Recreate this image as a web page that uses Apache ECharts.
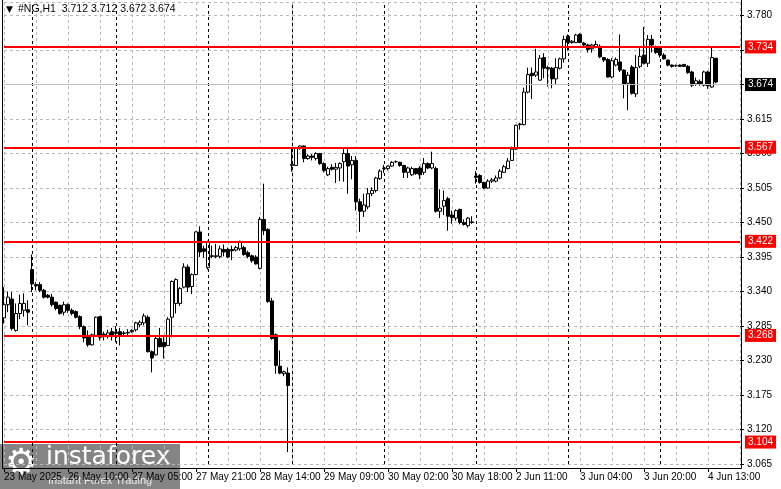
<!DOCTYPE html>
<html><head><meta charset="utf-8">
<script src="https://cdn.jsdelivr.net/npm/echarts@6/dist/echarts.min.js"></script>
<style>html,body{margin:0;padding:0;background:#fff}#c{width:781px;height:489px}</style>
</head><body><div id="c"></div><script>
// Hourly OHLC bars of #NG,H1 (index 0 = first visible bar, 23 May 2025)
const opens=[3.298,3.319,3.328,3.278,3.305,3.310,3.311,3.375,3.351,3.351,3.342,3.334,3.331,3.323,3.318,3.307,3.319,3.310,3.308,3.300,3.284,3.270,3.255,3.270,3.300,3.272,3.269,3.276,3.275,3.276,3.273,3.274,3.276,3.279,3.287,3.290,3.299,3.244,3.239,3.265,3.259,3.254,3.299,3.321,3.321,3.347,3.379,3.348,3.367,3.435,3.408,3.378,3.397,3.396,3.396,3.407,3.407,3.407,3.406,3.408,3.410,3.402,3.397,3.395,3.377,3.455,3.439,3.325,3.271,3.221,3.209,3.210,3.541,3.541,3.568,3.572,3.552,3.556,3.552,3.560,3.544,3.526,3.538,3.535,3.537,3.547,3.560,3.542,3.549,3.483,3.468,3.475,3.496,3.501,3.520,3.536,3.536,3.540,3.547,3.546,3.541,3.530,3.526,3.536,3.537,3.530,3.544,3.537,3.536,3.468,3.476,3.488,3.462,3.457,3.471,3.450,3.445,3.450,3.524,3.525,3.514,3.505,3.516,3.516,3.521,3.530,3.536,3.549,3.567,3.606,3.606,3.658,3.688,3.685,3.677,3.713,3.697,3.696,3.679,3.696,3.711,3.747,3.737,3.737,3.750,3.736,3.733,3.727,3.730,3.731,3.713,3.710,3.682,3.701,3.706,3.693,3.672,3.698,3.655,3.699,3.717,3.704,3.742,3.730,3.728,3.717,3.709,3.701,3.700,3.701,3.702,3.699,3.690,3.671,3.675,3.669,3.690,3.666,3.712];
const highs=[3.347,3.340,3.339,3.321,3.335,3.337,3.326,3.399,3.355,3.355,3.344,3.336,3.336,3.324,3.319,3.324,3.321,3.313,3.310,3.302,3.286,3.278,3.273,3.300,3.300,3.276,3.279,3.282,3.285,3.282,3.277,3.280,3.280,3.292,3.294,3.305,3.302,3.246,3.268,3.282,3.270,3.299,3.358,3.361,3.347,3.385,3.383,3.369,3.436,3.444,3.413,3.421,3.413,3.416,3.413,3.415,3.410,3.413,3.413,3.421,3.413,3.405,3.399,3.398,3.459,3.512,3.441,3.330,3.273,3.246,3.214,3.219,3.568,3.570,3.573,3.573,3.559,3.559,3.562,3.561,3.546,3.539,3.543,3.545,3.546,3.568,3.568,3.556,3.556,3.488,3.496,3.505,3.506,3.523,3.535,3.542,3.541,3.548,3.549,3.547,3.542,3.539,3.539,3.537,3.540,3.553,3.546,3.563,3.539,3.503,3.501,3.491,3.469,3.471,3.472,3.455,3.459,3.460,3.532,3.527,3.515,3.519,3.521,3.525,3.535,3.542,3.553,3.571,3.606,3.609,3.665,3.697,3.697,3.727,3.717,3.720,3.700,3.698,3.712,3.713,3.748,3.750,3.741,3.751,3.752,3.738,3.735,3.735,3.740,3.734,3.714,3.712,3.712,3.713,3.750,3.694,3.690,3.701,3.717,3.728,3.762,3.749,3.749,3.732,3.729,3.720,3.710,3.702,3.702,3.702,3.703,3.701,3.692,3.681,3.678,3.692,3.692,3.729,3.712];
const lows=[3.289,3.307,3.278,3.276,3.296,3.300,3.286,3.339,3.342,3.339,3.329,3.329,3.316,3.310,3.303,3.302,3.306,3.302,3.297,3.280,3.259,3.252,3.254,3.268,3.262,3.262,3.265,3.262,3.259,3.254,3.269,3.268,3.274,3.276,3.283,3.286,3.243,3.211,3.238,3.251,3.233,3.253,3.267,3.305,3.317,3.345,3.339,3.336,3.366,3.395,3.394,3.375,3.393,3.393,3.393,3.396,3.393,3.390,3.404,3.405,3.397,3.393,3.386,3.383,3.375,3.430,3.322,3.263,3.209,3.208,3.205,3.084,3.531,3.540,3.566,3.546,3.550,3.549,3.549,3.542,3.530,3.524,3.533,3.513,3.516,3.515,3.496,3.519,3.469,3.435,3.459,3.471,3.492,3.498,3.518,3.529,3.533,3.539,3.545,3.539,3.521,3.521,3.524,3.526,3.519,3.526,3.535,3.535,3.466,3.457,3.462,3.437,3.448,3.453,3.447,3.445,3.442,3.448,3.512,3.512,3.503,3.504,3.513,3.514,3.519,3.529,3.535,3.548,3.566,3.598,3.605,3.656,3.647,3.682,3.676,3.680,3.667,3.664,3.670,3.694,3.705,3.724,3.735,3.736,3.736,3.730,3.721,3.721,3.728,3.712,3.706,3.681,3.680,3.699,3.690,3.648,3.629,3.654,3.650,3.696,3.702,3.698,3.721,3.719,3.713,3.710,3.699,3.697,3.698,3.698,3.698,3.687,3.666,3.668,3.668,3.667,3.663,3.665,3.672];
const closes=[3.319,3.331,3.281,3.305,3.321,3.321,3.307,3.352,3.349,3.342,3.331,3.331,3.319,3.313,3.305,3.319,3.310,3.305,3.299,3.284,3.266,3.255,3.271,3.299,3.267,3.268,3.274,3.270,3.273,3.270,3.274,3.275,3.278,3.290,3.291,3.301,3.244,3.234,3.265,3.252,3.252,3.296,3.356,3.359,3.345,3.379,3.347,3.367,3.435,3.403,3.404,3.419,3.396,3.397,3.408,3.403,3.395,3.405,3.410,3.420,3.399,3.396,3.389,3.384,3.455,3.437,3.324,3.265,3.222,3.210,3.212,3.190,3.543,3.568,3.572,3.552,3.556,3.554,3.560,3.544,3.533,3.536,3.535,3.538,3.544,3.560,3.540,3.549,3.483,3.468,3.478,3.496,3.501,3.521,3.532,3.537,3.540,3.546,3.547,3.541,3.530,3.537,3.536,3.528,3.526,3.544,3.537,3.544,3.468,3.473,3.485,3.460,3.458,3.469,3.450,3.447,3.457,3.451,3.522,3.514,3.505,3.516,3.518,3.521,3.532,3.539,3.548,3.567,3.605,3.607,3.658,3.686,3.684,3.690,3.712,3.696,3.695,3.679,3.697,3.711,3.742,3.737,3.739,3.749,3.737,3.733,3.726,3.733,3.734,3.714,3.709,3.682,3.708,3.710,3.693,3.671,3.685,3.656,3.697,3.715,3.704,3.742,3.733,3.721,3.717,3.711,3.701,3.699,3.700,3.699,3.699,3.689,3.669,3.676,3.671,3.690,3.668,3.713,3.674];
const tickLabels=["23 May 2025","26 May 10:00","27 May 05:00","27 May 21:00","28 May 14:00","29 May 09:00","30 May 02:00","30 May 18:00","2 Jun 11:00","3 Jun 04:00","3 Jun 20:00","4 Jun 13:00"];
const daySeparators=[7,28,51,72,95,118,141,164];
const levels=[3.734,3.567,3.422,3.268,3.104];
const bidPrice=3.674;
const headerText="#NG,H1  3.712 3.712 3.672 3.674";
const totalSlots=185, labelEvery=16, gridEvery=8;

const categories=[];
for(let i=0;i<totalSlots;i++) categories.push('b'+i);
const ohlc=opens.map((o,i)=>[o,closes[i],lows[i],highs[i]]);
const FONT='Liberation Sans';

const chart=echarts.init(document.getElementById('c'),null,{renderer:'canvas'});
const markData=[];
daySeparators.forEach(idx=>markData.push({xAxis:categories[idx],lineStyle:{color:'#000',width:1,type:[3,3]},label:{show:false}}));
const tagLabel=(bg)=>({show:true,position:'end',distance:5,formatter:p=>p.name,color:'#fff',backgroundColor:bg,padding:[2,3,1,3],fontSize:10,fontFamily:FONT});
markData.push({name:bidPrice.toFixed(3),yAxis:bidPrice,lineStyle:{color:'#c0c0c0',width:1,type:'solid'},label:tagLabel('#000')});
levels.forEach(v=>markData.push({name:v.toFixed(3),yAxis:v,lineStyle:{color:'#ff0000',width:2,type:'solid'},label:tagLabel('#ff0000')}));

chart.setOption({
  animation:false,
  backgroundColor:'#fff',
  grid:{left:4,top:2,width:736,height:462,containLabel:false},
  xAxis:{type:'category',data:categories,boundaryGap:false,offset:4,
    axisLine:{show:false},
    axisTick:{show:true,length:4,lineStyle:{color:'#000'},interval:(i)=>i%labelEvery===0},
    axisLabel:{interval:(i)=>i%labelEvery===0,formatter:(v,i)=>tickLabels[i/labelEvery]||'',align:'left',margin:4,fontSize:10,color:'#000',fontFamily:FONT},
    splitLine:{show:true,interval:(i)=>i%gridEvery===0,lineStyle:{color:'#b8b8b8',type:[3,3],width:1}}},
  yAxis:{type:'value',position:'right',min:3.065,max:3.8016,interval:0.055,scale:true,
    axisLine:{show:false},
    axisTick:{show:true,length:4,lineStyle:{color:'#000'}},
    axisLabel:{formatter:v=>v.toFixed(3),showMaxLabel:false,margin:7,fontSize:10,color:'#000',fontFamily:FONT},
    splitLine:{show:true,lineStyle:{color:'#b8b8b8',type:[3,3],width:1}}},
  series:[{type:'candlestick',data:ohlc,barWidth:3,clip:false,
    itemStyle:{color:'#fff',color0:'#000',borderColor:'#000',borderColor0:'#000',borderWidth:1},
    markLine:{symbol:['none','none'],silent:true,animation:false,data:markData}}],
  graphic:[
    {type:'polyline',z:50,silent:true,shape:{points:[[2.5,0],[2.5,468.5],[741.5,468.5],[741.5,0]]},style:{fill:'none',stroke:'#000',lineWidth:1}},
    {type:'text',z:50,left:6,top:5,style:{text:'▼',fontSize:9,fill:'#000',fontFamily:'DejaVu Sans'}},
    {type:'text',z:50,left:18,top:4,style:{text:headerText,fontSize:10.5,fill:'#000',fontFamily:FONT}},
    {type:'group',z:60,left:0,top:444,children:[
      {type:'rect',shape:{x:0,y:0,width:180,height:45},style:{fill:'rgba(105,105,105,0.82)'}},
      {type:'text',style:{x:5,y:3,text:'⚙',fontSize:36,fill:'#fff',fontFamily:'DejaVu Sans'}},
      {type:'text',style:{x:46,y:1,text:'instaforex',fontSize:25,fill:'#fff',fontFamily:'DejaVu Sans'}},
      {type:'text',style:{x:48,y:31,text:'Instant Forex Trading',fontSize:11,fill:'rgba(255,255,255,0.85)',fontFamily:FONT}}
    ]}
  ]
});
</script></body></html>
